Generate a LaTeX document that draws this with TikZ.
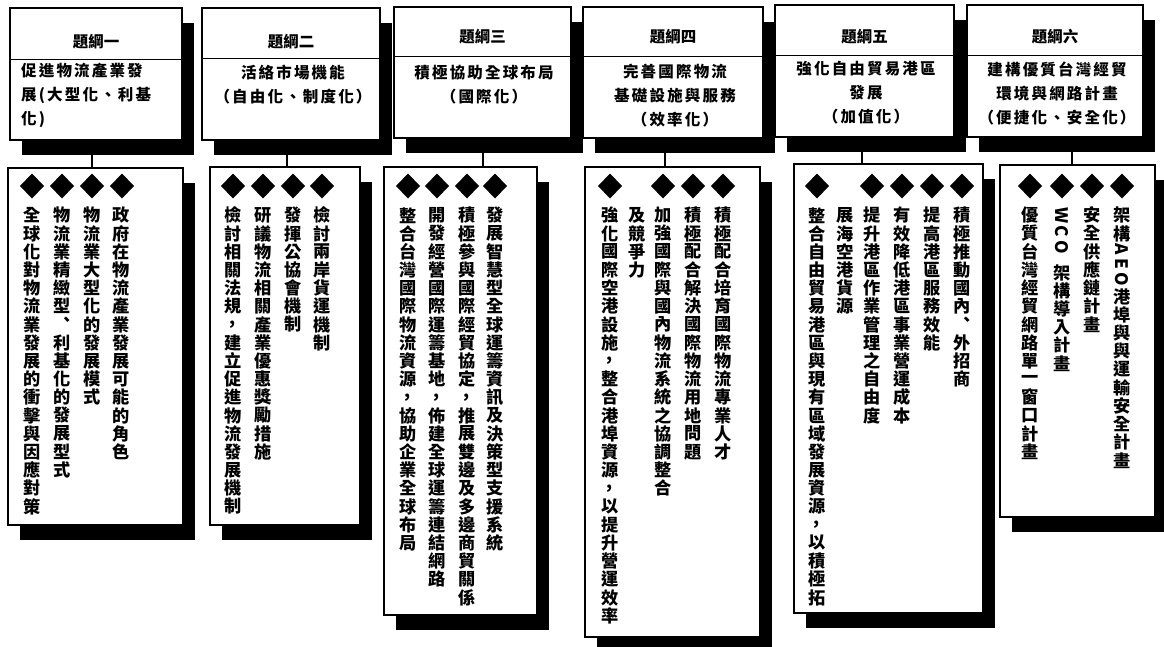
\documentclass[tikz,border=0pt]{standalone}
\usepackage{fontspec}
\usepackage{graphicx}
\newfontfamily\cjk{Noto Sans CJK TC}
\newfontfamily\cjkh{Noto Sans CJK TC Black}
\newfontfamily\cjks{Noto Sans CJK TC}[LetterSpace=14]
\usetikzlibrary{shadows}
% vertical text machinery
\newdimen\vtpitch \vtpitch=18.2pt
\def\vtcell#1{\hbox to 20pt{\hss\vbox to\vtpitch{\vss\hbox{#1}\vss}\hss}}
\def\latcell#1{\kern1pt\hbox to 20pt{\hss\rotatebox[origin=c]{-90}{#1}\hss}\kern1.5pt}
\def\vtend{VTEND}
\def\vtl#1{\ifx#1\vtend\else\ifcat\noexpand#1\relax#1\else\vtcell{#1}\fi\expandafter\vtl\fi}
\newcommand\vt[1]{\vbox{\offinterlineskip\vtl#1\vtend}}
\def\RA{\latcell{A}}\def\RE{\latcell{E}}\def\RO{\latcell{O}}
\def\RW{\latcell{W}}\def\RC{\latcell{C}}\def\VS{\kern8pt}
\def\CM{\vtcell{,}}
\newcommand\dia[1]{\fill (#1,186) +(-12,0) -- +(0,-12.5) -- +(12,0) -- +(0,12.5) -- cycle;}
\begin{document}
\begin{tikzpicture}[x=1pt,y=-1pt,
  boxshadow/.style={drop shadow={shadow xshift=12pt,shadow yshift=-15pt,fill=black,opacity=1}},
  tbox/.style={draw,line width=1.5pt,fill=white,rectangle,inner sep=0pt,boxshadow},
  lbox/.style={draw,line width=1.5pt,fill=white,rectangle,inner sep=0pt,boxshadow},
  divider/.style={line width=1.2pt},
  hdr/.style={inner sep=0pt,font=\cjk\bfseries\fontsize{15.5}{17}\selectfont},
  sub/.style={inner sep=0pt,align=center,font=\cjks\bfseries\fontsize{15.5}{24}\selectfont},
  vcol/.style={anchor=north,inner sep=0pt,font=\cjkh\fontsize{17.2}{18}\selectfont},
  conn/.style={line width=1.2pt}]
\useasboundingbox (0,0) rectangle (1164,646);
\fill[white] (0,0) rectangle (1164,646);

% ---------- top boxes ----------
\node[tbox,minimum width=172pt,minimum height=132pt] (t1) at (96,74) {};
\node[tbox,minimum width=178pt,minimum height=132pt] (t2) at (291,74) {};
\node[tbox,minimum width=177pt,minimum height=131pt] (t3) at (482.5,72.5) {};
\node[tbox,minimum width=180pt,minimum height=131pt] (t4) at (673,72.5) {};
\node[tbox,minimum width=179pt,minimum height=132pt] (t5) at (864.5,71) {};
\node[tbox,minimum width=176pt,minimum height=132pt] (t6) at (1055,71) {};
\draw[divider] ([yshift=-52pt]t1.north west) -- ([yshift=-52pt]t1.north east);
\draw[divider] ([yshift=-51pt]t2.north west) -- ([yshift=-51pt]t2.north east);
\draw[divider] ([yshift=-50pt]t3.north west) -- ([yshift=-50pt]t3.north east);
\draw[divider] ([yshift=-50pt]t4.north west) -- ([yshift=-50pt]t4.north east);
\draw[divider] ([yshift=-51pt]t5.north west) -- ([yshift=-51pt]t5.north east);
\draw[divider] ([yshift=-51pt]t6.north west) -- ([yshift=-51pt]t6.north east);

\node[hdr] (h1) at (96,42) {題綱一};
\node[hdr] (h2) at (291,42) {題綱二};
\node[hdr] (h3) at (482.5,37) {題綱三};
\node[hdr] (h4) at (673,37) {題綱四};
\node[hdr] (h5) at (864.5,37) {題綱五};
\node[hdr] (h6) at (1055,37) {題綱六};

\node[sub,align=left,anchor=west] (s1) at (21,95.5) {促進物流產業發\\展(大型化、利基\\化)};
\node[sub] (s2) at (293,84.5) {活絡市場機能\\（自由化、制度化）};
\node[sub] (s3) at (484,84.5) {積極協助全球布局\\（國際化）};
\node[sub] (s4) at (675,95.5) {完善國際物流\\基礎設施與服務\\（效率化）};
\node[sub] (s5) at (866,93) {強化自由貿易港區\\發展\\（加值化）};
\node[sub] (s6) at (1057,93) {建構優質台灣經貿\\環境與網路計畫\\（便捷化、安全化）};

% ---------- lower boxes ----------
\node[lbox,minimum width=175pt,minimum height=357pt] (l1) at (95.5,346.5) {};
\node[lbox,minimum width=150pt,minimum height=358pt] (l2) at (285,346) {};
\node[lbox,minimum width=153pt,minimum height=448pt] (l3) at (460.5,391) {};
\node[lbox,minimum width=175pt,minimum height=470pt] (l4) at (672.5,402) {};
\node[lbox,minimum width=189pt,minimum height=449pt] (l5) at (888.5,388.5) {};
\node[lbox,minimum width=155pt,minimum height=352pt] (l6) at (1077.5,341) {};

% ---------- connectors ----------
\draw[conn] ([xshift=-4pt]t1.south) -- ([xshift=-4pt]t1.south |- l1.north);
\draw[conn] ([xshift=-4pt]t2.south) -- ([xshift=-4pt]t2.south |- l2.north);
\draw[conn] ([xshift=0.5pt]t3.south) -- ([xshift=0.5pt]t3.south |- l3.north);
\draw[conn] ([xshift=-8pt]t4.south) -- ([xshift=-8pt]t4.south |- l4.north);
\draw[conn] ([xshift=-2.5pt]t5.south) -- ([xshift=-2.5pt]t5.south |- l5.north);
\draw[conn] ([xshift=17pt]t6.south) -- ([xshift=17pt]t6.south |- l6.north);

% ---------- box 1 items ----------
\dia{122}\dia{92}\dia{62}\dia{32}
\node[vcol] (a1) at (121,206) {\vt{政府在物流產業發展可能的角色}};
\node[vcol] (a2) at (92,206) {\vt{物流業大型化的發展模式}};
\node[vcol] (a3) at (62,206) {\vt{物流業精緻型︑利基化的發展型式}};
\node[vcol] (a4) at (32,206) {\vt{全球化對物流業發展的衝擊與因應對策}};

% ---------- box 2 items ----------
\dia{322}\dia{293}\dia{263}\dia{233}
\node[vcol] (b1) at (322,206) {\vt{檢討兩岸貨運機制}};
\node[vcol] (b2) at (293,206) {\vt{發揮公協會機制}};
\node[vcol] (b3) at (263,206) {\vt{研議物流相關產業優惠獎勵措施}};
\node[vcol] (b4) at (233,206) {\vt{檢討相關法規\CM 建立促進物流發展機制}};

% ---------- box 3 items ----------
\dia{495}\dia{467}\dia{437}\dia{408}
\node[vcol] (c1) at (495,206) {\vt{發展智慧型全球運籌資訊及決策型支援系統}};
\node[vcol] (c2) at (467,206) {\vt{積極參與國際經貿協定\CM 推展雙邊及多邊商貿關係}};
\node[vcol] (c3) at (437,206) {\vt{開發經營國際運籌基地\CM 佈建全球運籌連結網路}};
\node[vcol] (c4) at (408,206) {\vt{整合台灣國際物流資源\CM 協助企業全球布局}};

% ---------- box 4 items ----------
\dia{723}\dia{693}\dia{663}\dia{610}
\node[vcol] (d1) at (723,206) {\vt{積極配合培育國際物流專業人才}};
\node[vcol] (d2) at (693,206) {\vt{積極配合解決國際物流用地問題}};
\node[vcol] (d3) at (663,206) {\vt{加強國際與國內物流系統之協調整合}};
\node[vcol] (d3b) at (637,206) {\vt{及競爭力}};
\node[vcol] (d4) at (610,206) {\vt{強化國際空港設施\CM 整合港埠資源\CM 以提升營運效率}};

% ---------- box 5 items ----------
\dia{962}\dia{932}\dia{902}\dia{872}\dia{817}
\node[vcol] (e1) at (962,206) {\vt{積極推動國內︑外招商}};
\node[vcol] (e2) at (932,206) {\vt{提高港區服務效能}};
\node[vcol] (e3) at (902,206) {\vt{有效降低港區事業營運成本}};
\node[vcol] (e4) at (872,206) {\vt{提升港區作業管理之自由度}};
\node[vcol] (e4b) at (845,206) {\vt{展海空港貨源}};
\node[vcol] (e5) at (817,206) {\vt{整合自由貿易港區與現有區域發展資源\CM 以積極拓}};

% ---------- box 6 items ----------
\dia{1122}\dia{1092}\dia{1062}\dia{1030}
\node[vcol] (f1) at (1122,206) {\vt{架構\RA\RE\RO 港埠與與運輸安全計畫}};
\node[vcol] (f2) at (1092,206) {\vt{安全供應鏈計畫}};
\node[vcol] (f3) at (1062,206) {\vt{\RW\RC\RO\VS 架構導入計畫}};
\node[vcol] (f4) at (1030,206) {\vt{優質台灣經貿網路單一窗口計畫}};
\end{tikzpicture}
\end{document}
